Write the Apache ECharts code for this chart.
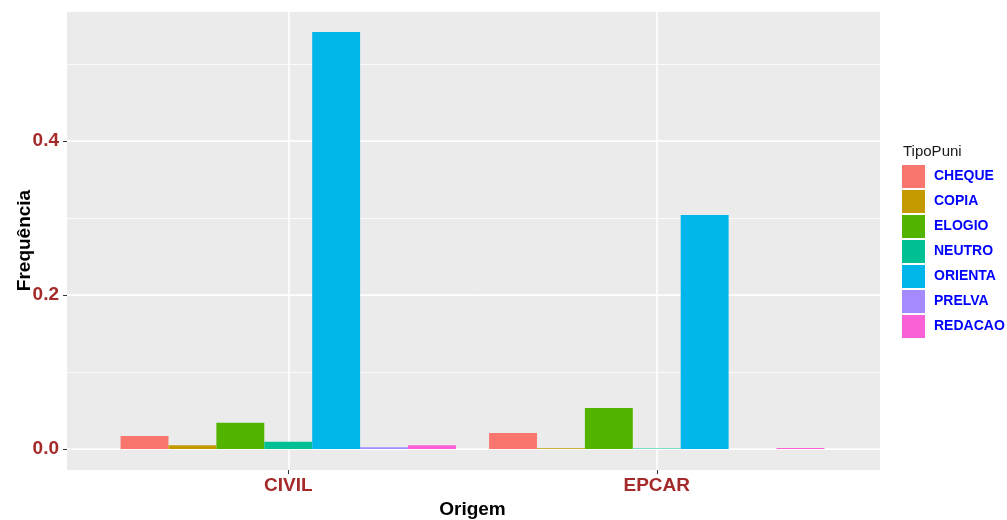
<!DOCTYPE html>
<html>
<head>
<meta charset="utf-8">
<script src="https://cdn.jsdelivr.net/npm/echarts@6/dist/echarts.min.js"></script>
<style>html,body{margin:0;padding:0;background:#fff;}#c{width:1007px;height:520px;}</style>
</head>
<body>
<div id="c"></div>
<script>
const categories = ['CIVIL', 'EPCAR'];
const tipos = ['CHEQUE', 'COPIA', 'ELOGIO', 'NEUTRO', 'ORIENTA', 'PRELVA', 'REDACAO'];
const cheque  = [0.0169, 0.0208];
const copia   = [0.0048, 0.0010];
const elogio  = [0.0342, 0.0532];
const neutro  = [0.0095, 0.0005];
const orienta = [0.5416, 0.3039];
const prelva  = [0.0022, 0.0000];
const redacao = [0.0048, 0.0013];
const yTicks = [0, 0.2, 0.4];
const yTickLabels = ['0.0', '0.2', '0.4'];

const valuesByTipo = [cheque, copia, elogio, neutro, orienta, prelva, redacao];
const colors = ['#F8766D', '#C49A00', '#53B400', '#00C094', '#00B6EB', '#A58AFF', '#FB61D7'];
const FONT = 'Liberation Sans, Arial, sans-serif';
const LABEL_COLOR = '#A52A2A';
const yMax = 0.5688;
const yMin = -0.0273;

const chart = echarts.init(document.getElementById('c'), null, {renderer: 'canvas'});
const hiddenValue = (gi) => ({type: 'value', gridIndex: gi, show: false, min: 0, max: 1});

const option = {
  animation: false,
  color: colors,
  title: {
    text: 'TipoPuni', left: 898, top: 139,
    textStyle: {fontFamily: FONT, fontSize: 15, fontWeight: 'normal', color: '#1a1a1a'}
  },
  legend: {
    orient: 'vertical', left: 897, top: 160,
    itemWidth: 23, itemHeight: 23, itemGap: 2,
    icon: 'rect',
    data: tipos,
    textStyle: {fontFamily: FONT, fontSize: 14, fontWeight: 'bold', color: '#0000FF', padding: [0, 0, 0, 4]}
  },
  grid: [
    {left: 67, right: 127, top: 11, bottom: 50, show: true, backgroundColor: '#EBEBEB', borderWidth: 0, containLabel: false, outerBoundsMode: 'none'},
    {left: 67, right: 127, top: 11, bottom: 71, containLabel: false, outerBoundsMode: 'none'},
    {left: 104, right: 166, top: 11, bottom: 50, containLabel: false, outerBoundsMode: 'none'}
  ],
  xAxis: [
    hiddenValue(0),
    hiddenValue(1),
    {
      type: 'category', gridIndex: 2, data: categories,
      axisLine: {show: false, onZero: false},
      axisTick: {show: true, alignWithLabel: true, length: 4, lineStyle: {color: '#333333', width: 1}},
      axisLabel: {fontFamily: FONT, fontSize: 19, fontWeight: 'bold', color: LABEL_COLOR, margin: 6},
      splitLine: {show: true, alignWithLabel: true, lineStyle: {color: '#FFFFFF', width: 1.6}},
      name: 'Origem', nameLocation: 'middle', nameGap: 30, nameMoveOverlap: false,
      nameTextStyle: {fontFamily: FONT, fontSize: 19, fontWeight: 'bold', color: '#000000'}
    }
  ],
  yAxis: [
    {
      type: 'value', gridIndex: 0, min: 0, max: 1,
      axisLine: {show: false}, axisTick: {show: false}, axisLabel: {show: false},
      splitLine: {show: false},
      name: 'Frequência', nameLocation: 'middle', nameGap: 33, nameMoveOverlap: false,
      nameTextStyle: {fontFamily: FONT, fontSize: 19, fontWeight: 'bold', color: '#000000'}
    },
    {
      type: 'value', gridIndex: 1, min: 0, max: yMax, interval: 0.2,
      axisLine: {show: false},
      axisTick: {show: true, length: 4, customValues: yTicks, lineStyle: {color: '#333333', width: 1}},
      axisLabel: {
        fontFamily: FONT, fontSize: 19, fontWeight: 'bold', color: LABEL_COLOR, margin: 8,
        customValues: yTicks,
        formatter: (v) => { const i = yTicks.findIndex(t => Math.abs(t - v) < 1e-9); return i >= 0 ? yTickLabels[i] : ''; }
      },
      splitLine: {show: true, lineStyle: {color: '#FFFFFF', width: 1.6}}
    },
    {
      type: 'value', gridIndex: 1, min: 0, max: yMax, interval: 0.1,
      axisLine: {show: false}, axisTick: {show: false}, axisLabel: {show: false},
      splitLine: {show: true, lineStyle: {color: '#FFFFFF', width: 0.8}}
    },
    {
      type: 'value', gridIndex: 2, min: yMin, max: yMax, show: false,
      splitLine: {show: false}
    }
  ],
  series: tipos.map((t, i) => ({
    name: t, type: 'bar', xAxisIndex: 2, yAxisIndex: 3,
    data: valuesByTipo[i],
    barGap: '0%', barCategoryGap: '9%',
    itemStyle: {color: colors[i]},
    emphasis: {disabled: true}
  }))
};
chart.setOption(option);
</script>
</body>
</html>
